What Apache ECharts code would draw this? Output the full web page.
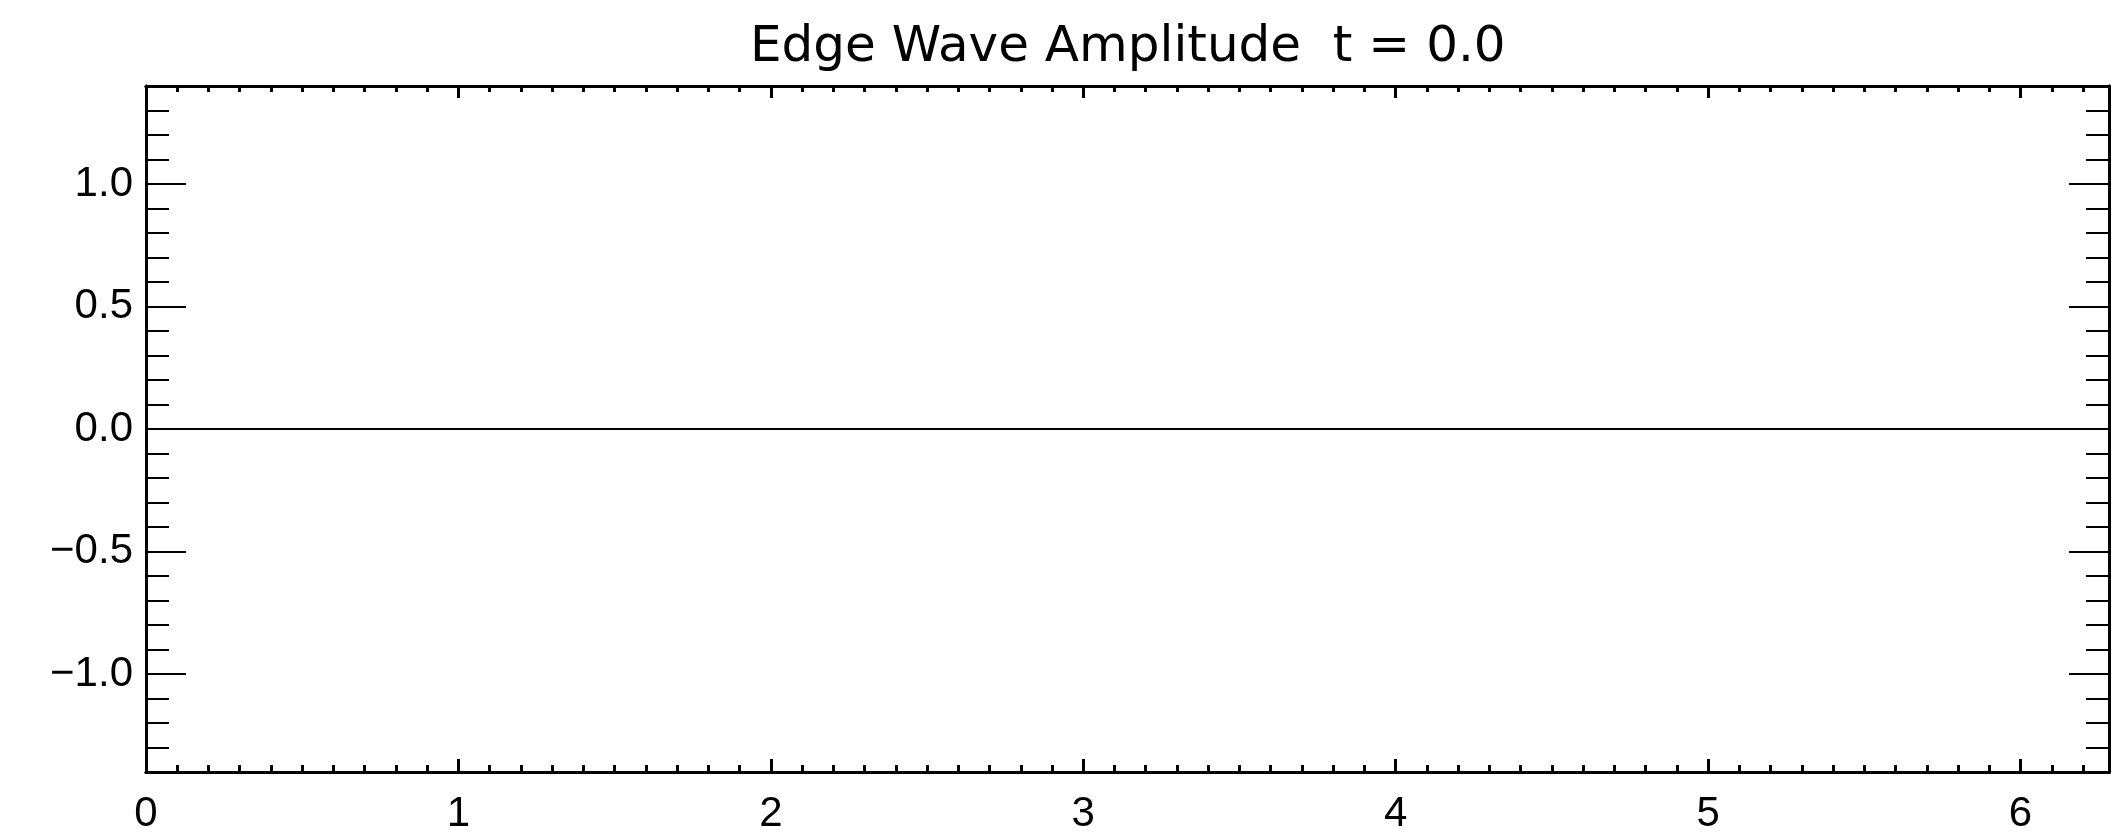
<!DOCTYPE html>
<html>
<head>
<meta charset="utf-8">
<script src="https://cdn.jsdelivr.net/npm/echarts@6/dist/echarts.min.js"></script>
<style>
html,body{margin:0;padding:0;background:#fff;}
#chart{width:2126px;height:836px;}
</style>
</head>
<body>
<div id="chart"></div>
<script>
// ---- data ----
const titleText = 'Edge Wave Amplitude  t = 0.0';
const xValues = [0, 1, 2, 3, 4, 5, 6, 6.2832];
const yValues = [0, 0, 0, 0, 0, 0, 0, 0];
const xMajorTicks = [0, 1, 2, 3, 4, 5, 6];
const yMajorTicks = [-1.0, -0.5, 0.0, 0.5, 1.0];
const xMin = 0, xMax = 6.2832;
const yMin = -1.4, yMax = 1.4;

// minor tick positions (every 0.1)
const xMinorTicks = [];
for (let i = 0; i <= 62; i++) xMinorTicks.push(i / 10);
const yMinorTicks = [];
for (let i = -14; i <= 14; i++) yMinorTicks.push(i / 10);

const labelFont = { color: '#000', fontFamily: 'Liberation Sans', fontSize: 42 };

function xAxisDef(pos, ticks, len, showLabel, width) {
  return {
    type: 'value', gridIndex: 0, position: pos, min: xMin, max: xMax,
    axisLine: { show: true, onZero: false, lineStyle: { color: '#000', width: 3 } },
    axisTick: { show: true, inside: true, length: len, customValues: ticks, lineStyle: { color: '#000', width: width } },
    axisLabel: showLabel ? Object.assign({ show: true, margin: 21, customValues: xMajorTicks,
      formatter: v => String(v) }, labelFont) : { show: false },
    splitLine: { show: false }
  };
}
function yAxisDef(pos, ticks, len, showLabel) {
  return {
    type: 'value', gridIndex: 0, position: pos, min: yMin, max: yMax,
    axisLine: { show: true, onZero: false, lineStyle: { color: '#000', width: 3 } },
    axisTick: { show: true, inside: true, length: len, customValues: ticks, lineStyle: { color: '#000', width: 2 } },
    axisLabel: showLabel ? Object.assign({ show: true, margin: 13, customValues: yMajorTicks,
      formatter: v => (v < 0 ? '\u2212' : '') + Math.abs(v).toFixed(1) }, labelFont) : { show: false },
    splitLine: { show: false }
  };
}

const chart = echarts.init(document.getElementById('chart'), null, { renderer: 'canvas' });
chart.setOption({
  animation: false,
  backgroundColor: '#fff',
  title: {
    text: titleText,
    left: 750, top: 23,
    padding: 0,
    textStyle: { color: '#000', fontFamily: 'DejaVu Sans', fontSize: 50, fontWeight: 'normal' }
  },
  grid: { left: 146, right: 17, top: 86, bottom: 64, containLabel: false },
  xAxis: [
    xAxisDef('bottom', xMajorTicks, 13, true, 3),
    xAxisDef('bottom', xMinorTicks, 7, false, 3),
    xAxisDef('top', xMajorTicks, 12, false, 3),
    xAxisDef('top', xMinorTicks, 6, false, 3)
  ],
  yAxis: [
    yAxisDef('left', yMajorTicks, 40, true),
    yAxisDef('left', yMinorTicks, 23, false),
    yAxisDef('right', yMajorTicks, 40, false),
    yAxisDef('right', yMinorTicks, 23, false)
  ],
  series: [{
    type: 'line',
    xAxisIndex: 0, yAxisIndex: 0,
    data: xValues.map((x, i) => [x, yValues[i]]),
    showSymbol: false,
    lineStyle: { color: '#000', width: 2 }
  }]
});
</script>
</body>
</html>
